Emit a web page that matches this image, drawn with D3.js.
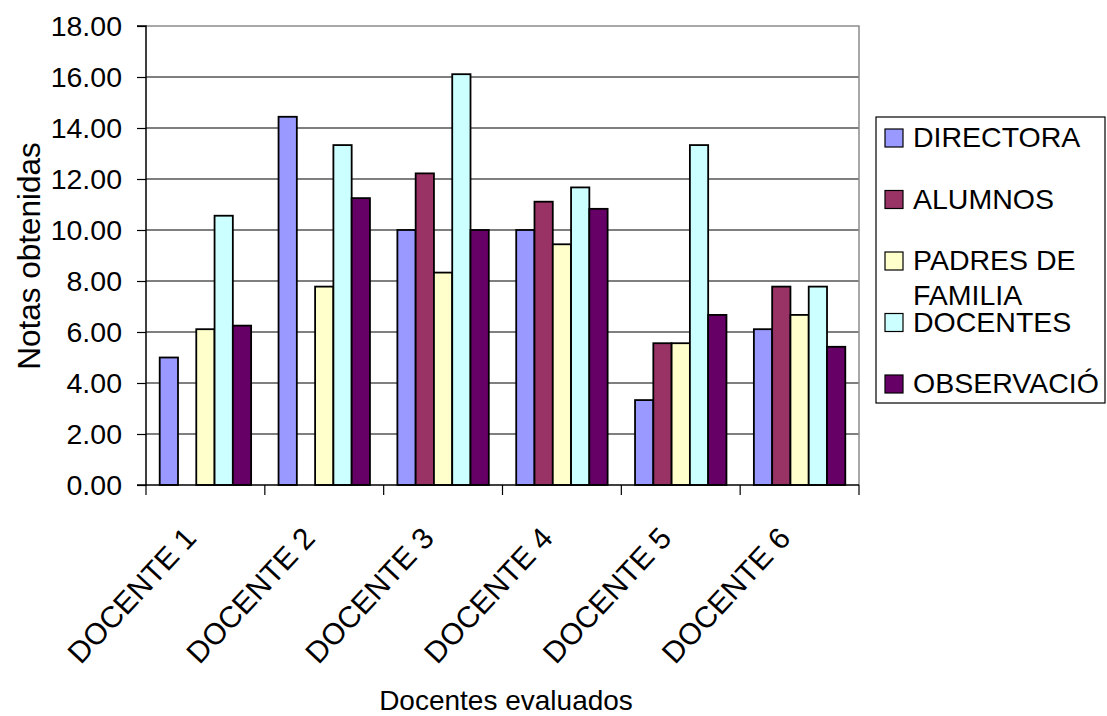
<!DOCTYPE html>
<html>
<head>
<meta charset="utf-8">
<script src="https://cdn.jsdelivr.net/npm/d3@7"></script>
<style>
  html, body { margin: 0; padding: 0; background: #ffffff; }
  svg text { font-family: "Liberation Sans", Arial, sans-serif; fill: #000; }
</style>
</head>
<body>
<svg id="chart" width="1107" height="716"></svg>
<script>
// Docentes evaluados y notas por fuente de evaluación
const categories = ["DOCENTE 1", "DOCENTE 2", "DOCENTE 3", "DOCENTE 4", "DOCENTE 5", "DOCENTE 6"];
const seriesNames = ["DIRECTORA", "ALUMNOS", "PADRES DE FAMILIA", "DOCENTES", "OBSERVACIÓ"];
const legendLines = [["DIRECTORA"], ["ALUMNOS"], ["PADRES DE", "FAMILIA"], ["DOCENTES"], ["OBSERVACIÓ"]];
const directora  = [5.00, 14.44, 10.00, 10.00, 3.33, 6.11];
const alumnos    = [0.00, 0.00, 12.22, 11.11, 5.56, 7.78];
const padres     = [6.11, 7.78, 8.33, 9.44, 5.56, 6.67];
const docentes   = [10.56, 13.33, 16.11, 11.67, 13.33, 7.78];
const observacion = [6.25, 11.25, 10.00, 10.83, 6.67, 5.42];
const yTicks = [0, 2, 4, 6, 8, 10, 12, 14, 16, 18];
const seriesColors = ["#9999FF", "#993366", "#FFFFCC", "#CCFFFF", "#660066"];

const seriesValues = [directora, alumnos, padres, docentes, observacion];

const svg = d3.select("#chart");
const plot = { left: 146, right: 859, top: 26, bottom: 485 };

const x0 = d3.scaleBand().domain(categories).range([plot.left, plot.right]).paddingInner(0).paddingOuter(0);
const x1 = d3.scaleBand().domain(d3.range(seriesNames.length)).range([0, x0.bandwidth()])
  .paddingInner(0).paddingOuter(0.75);
const y = d3.scaleLinear().domain([0, 18]).range([plot.bottom, plot.top]);

// gridlines
svg.append("g").selectAll("line")
  .data(yTicks.filter(t => t > 0 && t < 18))
  .join("line")
  .attr("x1", plot.left).attr("x2", plot.right)
  .attr("y1", d => y(d)).attr("y2", d => y(d))
  .attr("stroke", "#000").attr("stroke-width", 1.2);

// plot area top and right border
svg.append("path")
  .attr("d", `M${plot.left},${y(18)}H${plot.right}V${plot.bottom}`)
  .attr("fill", "none").attr("stroke", "#8c8c8c").attr("stroke-width", 1.5);

// bars
const rows = [];
categories.forEach((c, ci) => {
  seriesValues.forEach((vals, si) => {
    if (vals[ci] > 0) rows.push({ c, si, v: vals[ci] });
  });
});
svg.append("g").selectAll("rect")
  .data(rows)
  .join("rect")
  .attr("x", d => x0(d.c) + x1(d.si))
  .attr("y", d => y(d.v))
  .attr("width", x1.bandwidth())
  .attr("height", d => y(0) - y(d.v))
  .attr("fill", d => seriesColors[d.si])
  .attr("stroke", "#000").attr("stroke-width", 1.8);

// y axis
const yAxis = d3.axisLeft(y).tickValues(yTicks).tickFormat(d3.format(".2f")).tickSize(9).tickPadding(15);
const gy = svg.append("g").attr("transform", `translate(${plot.left},0)`).call(yAxis);
gy.select(".domain").attr("stroke", "#000").attr("stroke-width", 1.5).attr("d", `M-9,${y(18)}H0V${y(0)}H-9`);
gy.selectAll(".tick line").attr("stroke", "#000").attr("stroke-width", 1.2);
gy.selectAll(".tick text").attr("font-size", 28.5).attr("font-family", "Liberation Sans, Arial, sans-serif").attr("fill", "#000");

// x axis baseline and category ticks
svg.append("line")
  .attr("x1", plot.left).attr("x2", plot.right)
  .attr("y1", y(0)).attr("y2", y(0))
  .attr("stroke", "#000").attr("stroke-width", 1.5);
const bounds = categories.map(c => x0(c)).concat([plot.right]);
svg.append("g").selectAll("line")
  .data(bounds)
  .join("line")
  .attr("x1", d => d).attr("x2", d => d)
  .attr("y1", y(0)).attr("y2", y(0) + 10)
  .attr("stroke", "#000").attr("stroke-width", 1.2);

// category labels, rotated
svg.append("g").selectAll("text")
  .data(categories)
  .join("text")
  .attr("transform", d => `translate(${x0(d) + x0.bandwidth() / 2 - 74},${y(0) + 110}) rotate(-47)`)
  .attr("text-anchor", "middle")
  .attr("dy", "0.36em")
  .attr("font-size", 30)
  .text(d => d);

// axis titles
svg.append("text")
  .attr("transform", `translate(40,256) rotate(-90)`)
  .attr("text-anchor", "middle")
  .attr("font-size", 31.5)
  .text("Notas obtenidas");

svg.append("text")
  .attr("x", 506).attr("y", 710)
  .attr("text-anchor", "middle")
  .attr("font-size", 28)
  .text("Docentes evaluados");

// legend
const legend = svg.append("g");
legend.append("rect")
  .attr("x", 876).attr("y", 117).attr("width", 229).attr("height", 286)
  .attr("fill", "#fff").attr("stroke", "#000").attr("stroke-width", 1.2);
const items = legend.selectAll("g.item")
  .data(legendLines)
  .join("g")
  .attr("class", "item")
  .attr("transform", (d, i) => `translate(0,${147 + i * 61.5})`);
items.append("rect")
  .attr("x", 885).attr("y", -18).attr("width", 18).attr("height", 18)
  .attr("fill", (d, i) => seriesColors[i])
  .attr("stroke", "#000").attr("stroke-width", 1.2);
items.each(function(lines) {
  const g = d3.select(this);
  lines.forEach((line, li) => {
    g.append("text")
      .attr("x", 913).attr("y", li * 35)
      .attr("font-size", 28.5)
      .text(line);
  });
});
</script>
</body>
</html>
